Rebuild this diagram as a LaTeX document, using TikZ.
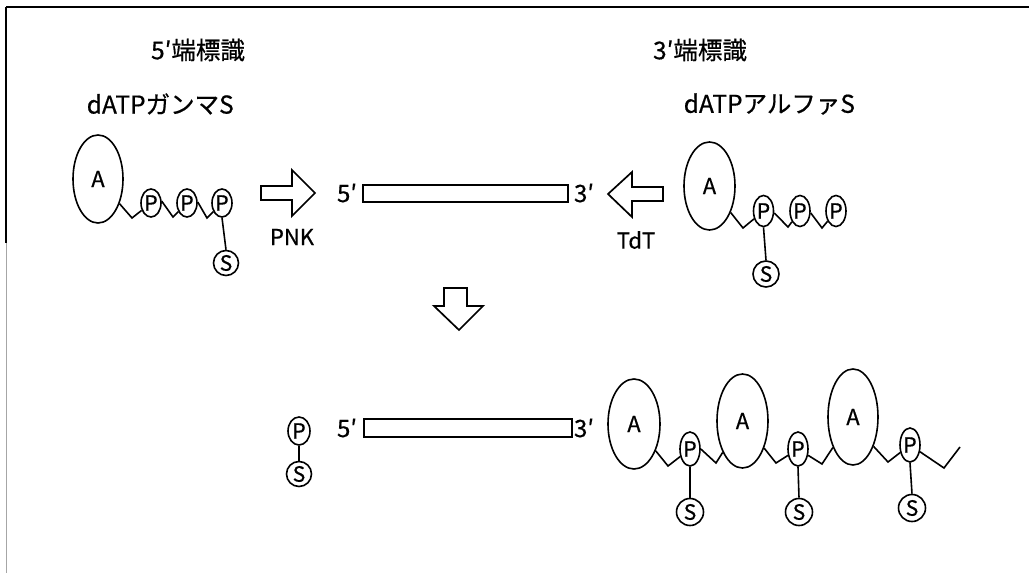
\documentclass[tikz,border=0pt]{standalone}
\usepackage{fontspec}
\setmainfont{Noto Sans CJK JP}[AutoFakeBold=0.6]
\usetikzlibrary{shapes.geometric}
\begin{document}
\begin{tikzpicture}[x=1pt,y=-1pt,line width=1.6pt,
  bigA/.style={draw,ellipse,inner sep=0pt,font=\fontsize{22}{22}\selectfont\bfseries},
  phos/.style={draw,ellipse,inner sep=0pt,minimum width=20pt,minimum height=28pt,font=\fontsize{21}{21}\selectfont\bfseries},
  sul/.style={draw,circle,inner sep=0pt,minimum size=25pt,font=\fontsize{21}{21}\selectfont\bfseries},
  head/.style={font=\fontsize{24.5}{25}\selectfont\bfseries,inner sep=0pt},
  lbl/.style={font=\fontsize{22}{22}\selectfont\bfseries,inner sep=0pt},
  endlbl/.style={font=\fontsize{24}{24}\selectfont\bfseries,inner sep=0pt},
  dna/.style={draw,rectangle,inner sep=0pt,line width=1.4pt},
  blockarrow/.style={draw,line width=1.7pt,line join=miter},
  frame/.style={line width=1.6pt}]
\useasboundingbox (0,0) rectangle (1029,573);
% frame
\draw[frame] (6,7) -- (1029,7);
\draw[frame] (6,7) -- (6,243);
\draw[line width=0.8pt,black!35] (6,243) -- (6,573);

% headings
\node[head] (h5) at (198,50) {5′端標識};
\node[head] (h3) at (700,50) {3′端標識};
\node[head,anchor=west] (g) at (86,104) {dATPガンマS};
\node[head,anchor=west] (al) at (683,104) {dATPアルファS};

% ---- top left: dATP gamma S
\node[bigA,minimum width=50pt,minimum height=88pt] (A0) at (98,179) {A};
\node[phos] (p01) at (151,203) {P};
\node[phos] (p02) at (187,203) {P};
\node[phos] (p03) at (222,203) {P};
\node[sul] (s0) at (226,263) {S};
\draw (A0) -- (132,218) -- (p01);
\draw (p01.10) -- (173,217) -- (p02);
\draw (p02.5) -- (207,218) -- (p03);
\draw (p03.south) -- (s0.north);

% PNK arrow
\draw[blockarrow] (261,186) -- (292,186) -- (292,170) -- (315,193) -- (292,216) -- (292,200) -- (261,200) -- cycle;
\node[lbl] (pnk) at (292,237) {PNK};

% top DNA
\node[endlbl] (t5) at (347,193) {5′};
\node[dna,minimum width=205pt,minimum height=17pt] (bar1) at (465.5,193.5) {};
\node[endlbl] (t3) at (584,193) {3′};

% TdT arrow
\draw[blockarrow] (608,194) -- (632,172) -- (632,187) -- (663,187) -- (663,201) -- (632,201) -- (632,217) -- cycle;
\node[lbl] (tdt) at (636,240) {TdT};

% ---- top right: dATP alpha S
\node[bigA,minimum width=51pt,minimum height=88pt] (A1) at (709.5,186) {A};
\node[phos,minimum height=31pt] (p11) at (763.5,211) {P};
\node[phos,minimum height=31pt] (p12) at (800,211) {P};
\node[phos,minimum height=31pt] (p13) at (836,211) {P};
\node[sul,minimum size=26pt] (s1) at (766,274) {S};
\draw (A1) -- (743,228) -- (p11);
\draw (p11.-10) -- (788,227) -- (p12);
\draw (p12.-10) -- (822,228) -- (p13);
\draw (p11.south) -- (s1.north);

% down arrow
\draw[blockarrow] (444,288) -- (467,288) -- (467,306) -- (483,306) -- (459,330) -- (434,306) -- (444,306) -- cycle;

% ---- bottom
\node[phos,minimum width=22pt] (pb) at (299,431) {P};
\node[sul] (sb) at (299,474) {S};
\draw (pb.south) -- (sb.north);

\node[endlbl] (b5) at (347,428) {5′};
\node[dna,minimum width=208pt,minimum height=18pt] (bar2) at (468,428) {};
\node[endlbl] (b3) at (584,428) {3′};

\node[bigA,minimum width=52pt,minimum height=90pt] (B1) at (634,424) {A};
\node[phos,minimum height=34pt] (q1) at (690,449) {P};
\node[sul,minimum size=27pt] (r1) at (690,512) {S};
\node[bigA,minimum width=51pt,minimum height=94pt] (B2) at (742.5,421) {A};
\node[phos,minimum height=34pt] (q2) at (798,449) {P};
\node[sul,minimum size=27pt] (r2) at (799,512) {S};
\node[bigA,minimum width=50pt,minimum height=96pt] (B3) at (853,417) {A};
\node[phos,minimum height=34pt] (q3) at (910,445) {P};
\node[sul,minimum size=27pt] (r3) at (912,508) {S};
\coordinate (tail) at (960,447);

\draw (B1) -- (668,466) -- (q1);
\draw (q1.0) -- (716,463) -- (B2);
\draw (B2) -- (776,463) -- (q2);
\draw (q2) -- (822,464) -- (B3);
\draw (B3.-55) -- (888,462) -- (q3);
\draw (q3) -- (944,468) -- (tail);
\draw (q1.south) -- (r1.north);
\draw (q2.south) -- (r2.north);
\draw (q3.south) -- (r3.north);
\end{tikzpicture}
\end{document}
